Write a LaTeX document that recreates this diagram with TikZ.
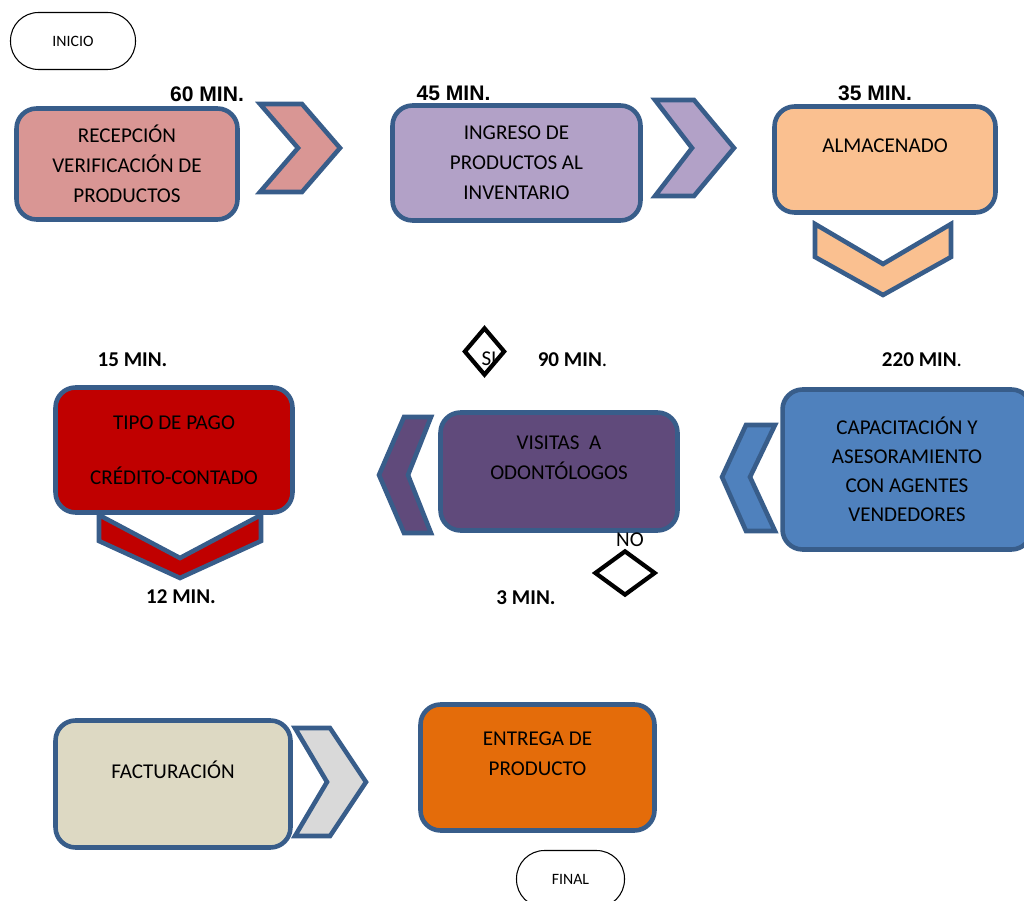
\documentclass[tikz,border=0pt]{standalone}
\usepackage{fontspec}
\setmainfont{Carlito}
\newfontfamily\arialfont{Liberation Sans}
\usepackage{tikz}
\usetikzlibrary{shapes.geometric}

\definecolor{boxline}{RGB}{56,93,138}
\definecolor{pinkfill}{RGB}{217,150,148}
\definecolor{lilacfill}{RGB}{178,161,199}
\definecolor{peachfill}{RGB}{250,192,144}
\definecolor{bluefill}{RGB}{79,129,189}
\definecolor{plumfill}{RGB}{96,74,123}
\definecolor{redfill}{RGB}{192,0,0}
\definecolor{beigefill}{RGB}{221,217,195}
\definecolor{orangefill}{RGB}{228,108,10}
\definecolor{greyfill}{RGB}{217,217,217}

\tikzset{
  stepbox/.style={draw=boxline, line width=2.6pt, rounded corners=0.4cm,
    align=center, inner sep=0pt, font=\fontsize{12}{17}\selectfont},
  raised/.style={text depth=16pt},
  chev/.style={draw=boxline, line width=2.6pt, line join=miter},
  mins/.style={inner sep=0pt, font=\bfseries\fontsize{12}{14}\selectfont},
  arialmins/.style={inner sep=0pt, font=\arialfont\bfseries\fontsize{12}{14}\selectfont},
  terminal/.style={draw=black, line width=0.6pt, rounded corners=0.56cm,
    minimum height=1.14cm, inner sep=0pt, font=\fontsize{9}{11}\selectfont},
  choice/.style={diamond, draw=black, line width=2.4pt, inner sep=0pt},
  small/.style={inner sep=0pt, font=\fontsize{12}{14}\selectfont}
}

\begin{document}
\begin{tikzpicture}[x=0.02cm, y=-0.02cm]

  \clip (0,0) rectangle (1024,901);

  % Start and end
  \node[terminal, minimum width=2.5cm] (inicio) at (73,41) {INICIO};
  \node[terminal, minimum width=2.16cm] (final) at (570.5,879) {FINAL};

  % First row, left to right
  \draw[chev, fill=pinkfill] (260,104) -- (302,104) -- (340,148) -- (302,192)
    -- (260,192) -- (298,148) -- cycle;
  \draw[chev, fill=lilacfill] (655,100) -- (694,100) -- (734,148) -- (694,196)
    -- (655,196) -- (692,148) -- cycle;

  \node[stepbox, fill=pinkfill, minimum width=4.42cm, minimum height=2.22cm]
    (recep) at (127,164) {RECEPCIÓN\\VERIFICACIÓN DE\\PRODUCTOS};
  \node[stepbox, fill=lilacfill, minimum width=4.96cm, minimum height=2.3cm]
    (ingreso) at (516.5,163) {INGRESO DE\\PRODUCTOS AL\\INVENTARIO};
  \node[stepbox, raised, fill=peachfill, minimum width=4.42cm, minimum height=2.12cm]
    (almacen) at (885,159.5) {ALMACENADO};

  \draw[chev, fill=peachfill] (815,224) -- (883,264) -- (951,224) -- (951,257)
    -- (883,295) -- (815,257) -- cycle;

  \node[arialmins] (t60) at (207,94) {60 MIN.};
  \node[arialmins] (t45) at (453.5,93) {45 MIN.};
  \node[arialmins] (t35) at (875,93) {35 MIN.};

  % Second row, right to left
  \draw[chev, fill=bluefill] (746,425) -- (775,425) -- (750,477) -- (775,531)
    -- (746,531) -- (722,477) -- cycle;
  \draw[chev, fill=plumfill] (404,417) -- (431,417) -- (408,475) -- (431,533)
    -- (404,533) -- (379,475) -- cycle;

  \node[stepbox, fill=bluefill, minimum width=4.98cm, minimum height=3.2cm,
    font=\fontsize{12}{16.6}\selectfont]
    (capacit) at (907,469.5) {CAPACITACIÓN Y\\ASESORAMIENTO\\CON AGENTES\\VENDEDORES};
  \node[stepbox, raised, fill=plumfill, minimum width=4.74cm, minimum height=2.36cm]
    (visitas) at (559,471.5) {VISITAS\ \ A\\ODONTÓLOGOS};
  \node[stepbox, fill=redfill, minimum width=4.74cm, minimum height=2.5cm]
    (pago) at (174,450) {TIPO DE PAGO\\[14pt]CRÉDITO-CONTADO};

  \draw[chev, fill=redfill] (99,515) -- (180,558) -- (261,515) -- (261,541)
    -- (180,578) -- (99,541) -- cycle;

  \node[mins] (t15) at (132.5,360) {15 MIN.};
  \node[mins] (t90) at (572.5,360) {90 MIN\mdseries.};
  \node[mins] (t220) at (922,360) {220 MIN\mdseries.};
  \node[mins] (t12) at (181,597) {12 MIN.};
  \node[mins] (t3) at (526,598) {3 MIN.};

  % Decisions
  \node[choice, minimum width=0.82cm, minimum height=0.96cm] (si) at (484.5,351.5) {};
  \node[small] (si-t) at (489,359) {SI};
  \node[choice, minimum width=1.22cm, minimum height=0.9cm] (no) at (625,573) {};
  \node[small] (no-t) at (630,540) {NO};

  % Third row
  \draw[chev, fill=greyfill] (295,728) -- (330,728) -- (366,782) -- (330,836)
    -- (295,836) -- (327,782) -- cycle;

  \node[stepbox, raised, fill=beigefill, minimum width=4.7cm, minimum height=2.54cm]
    (factura) at (173,784) {FACTURACIÓN};
  \node[stepbox, raised, fill=orangefill, minimum width=4.68cm, minimum height=2.52cm]
    (entrega) at (537.5,767.5) {ENTREGA DE\\PRODUCTO};

\end{tikzpicture}
\end{document}
